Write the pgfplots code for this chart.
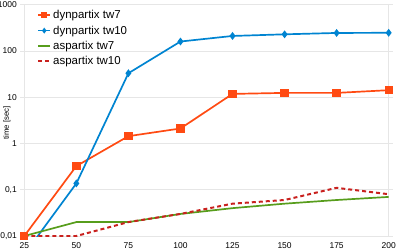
\documentclass[border=0pt]{standalone}
\usepackage{pgfplots}
\pgfplotsset{compat=1.18}
\usepackage{fontspec}
\setmainfont{Liberation Sans}
\definecolor{cOrange}{HTML}{FF4A12}
\definecolor{cBlue}{HTML}{0084D1}
\definecolor{cGreen}{HTML}{579D1C}
\definecolor{cRed}{HTML}{C9211E}
\definecolor{cGrid}{HTML}{E6E6E6}
\begin{document}
\begin{tikzpicture}
\begin{semilogyaxis}[
  scale only axis,
  width=364.4bp, height=231.3bp,
  xmin=25, xmax=200, ymin=0.01, ymax=1000,
  xtick={25,50,75,100,125,150,175,200},
  ytick={0.01,0.1,1,10,100,1000},
  yticklabels={{0,01},{0,1},1,10,100,1000},
  minor ytick={}, yminorticks=false,
  /pgf/number format/assume math mode=true,
  ticklabel style={font=\fontsize{8.5}{10}\selectfont},
  ymajorgrids, major grid style={cGrid, line width=0.6pt},
  axis line style={cGrid, line width=0.6pt},
  tick align=outside,
  major tick length=4bp,
  xtick style={draw=none},
  ytick style={cGrid, line width=0.6pt},
  xticklabel style={yshift=1bp},
  ylabel={time [sec]},
  ylabel style={font=\fontsize{7.8}{9}\selectfont, at={(axis description cs:-0.0475,0.489)}, anchor=center, rotate=0},
  legend style={at={(axis description cs:0.035,0.985)}, anchor=north west, draw=none, fill=none,
    font=\fontsize{11.5}{13}\selectfont, row sep=1.6bp, inner xsep=0pt, inner ysep=0pt},
  legend cell align=left,
  legend image code/.code={\draw[mark repeat=2,mark phase=2,#1, every mark/.append style={scale=0.62}] plot coordinates {(0bp,0bp) (6bp,0bp) (12bp,0bp)};},
]
\addplot[cOrange, line width=1.7pt, mark=square*, mark size=3.3bp, mark options={solid, fill=cOrange}] coordinates {
(25,0.01) (50,0.325) (75,1.44) (100,2.11) (125,11.8) (150,12.4) (175,12.4) (200,14.2)};
\addlegendentry{dynpartix tw7}
\addplot[cBlue, line width=1.7pt, mark=diamond*, mark size=2.6bp, mark options={solid, fill=cBlue}] coordinates {
(25,0.004) (50,0.137) (75,33) (100,160) (125,211) (150,229) (175,245) (200,247)};
\addlegendentry{dynpartix tw10}
\addplot[cGreen, line width=1.7pt] coordinates {
(25,0.01) (50,0.02) (75,0.02) (100,0.03) (125,0.04) (150,0.05) (175,0.06) (200,0.07)};
\addlegendentry{aspartix tw7}
\addplot[cRed, line width=2pt, dash pattern=on 4bp off 3bp] coordinates {
(25,0.01) (50,0.01) (75,0.02) (100,0.03) (125,0.05) (150,0.06) (175,0.11) (200,0.08)};
\addlegendentry{aspartix tw10}
\end{semilogyaxis}
\pgfresetboundingbox
\path ([shift={(-24.3bp,-16bp)}]current axis.south west) rectangle ([shift={(18.3bp,4.7bp)}]current axis.north east);
\end{tikzpicture}
\end{document}
